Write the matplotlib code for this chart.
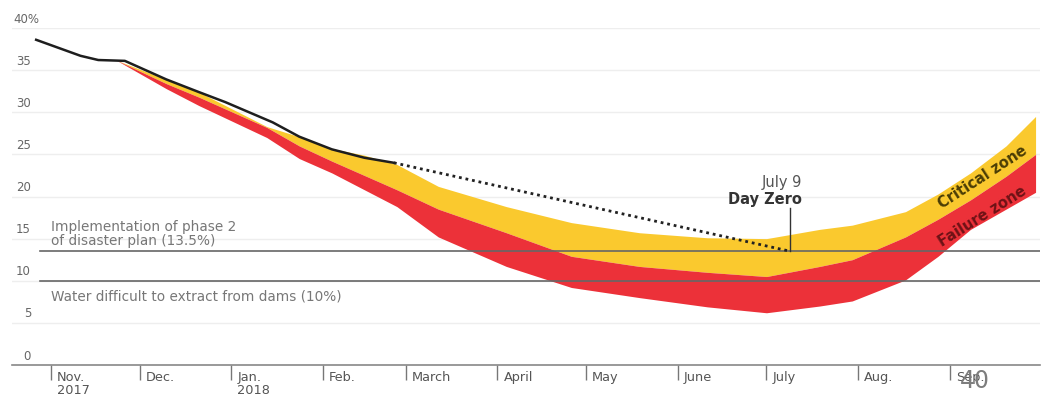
import matplotlib
matplotlib.use("Agg")
import matplotlib.pyplot as plt
import matplotlib.transforms as mtransforms
import pandas as pd

# measured dam level (%)
actual_dates = ['2017-10-27', '2017-11-11', '2017-11-17', '2017-11-26', '2017-12-10',
                '2017-12-21', '2017-12-30', '2018-01-07', '2018-01-15', '2018-01-24',
                '2018-02-04', '2018-02-15', '2018-02-25']
actual_level = [38.6, 36.7, 36.2, 36.1, 33.9, 32.4, 31.2, 30.0, 28.8, 27.1, 25.6, 24.6, 24.0]

# projection to day zero
projection_dates = ['2018-02-25', '2018-07-09']
projection_level = [24.0, 13.5]

# zone boundaries
band_dates = ['2017-11-23', '2017-12-10', '2017-12-21', '2018-01-13', '2018-01-24',
              '2018-02-04', '2018-02-15', '2018-02-26', '2018-03-12', '2018-04-04',
              '2018-04-26', '2018-05-19', '2018-06-11', '2018-07-01', '2018-07-19',
              '2018-07-30', '2018-08-17', '2018-08-28', '2018-09-08', '2018-09-20',
              '2018-09-30']
critical_top = [36.2, 33.9, 32.4, 28.3, 27.1, 25.7, 24.9, 23.8, 21.2, 18.8, 16.9,
                15.7, 15.1, 15.0, 16.1, 16.6, 18.2, 20.3, 22.8, 26.0, 29.5]
failure_top = [36.2, 33.4, 31.8, 28.2, 26.0, 24.2, 22.5, 20.8, 18.5, 15.7, 12.9,
               11.7, 11.0, 10.5, 11.7, 12.5, 15.2, 17.3, 19.6, 22.4, 25.0]
failure_bottom = [36.2, 32.8, 30.8, 27.0, 24.5, 22.8, 20.8, 18.8, 15.2, 11.7, 9.2,
                  8.0, 6.9, 6.2, 7.0, 7.6, 10.1, 12.9, 16.1, 18.5, 20.5]

month_ticks = ['2017-11-01', '2017-12-01', '2018-01-01', '2018-02-01', '2018-03-01',
               '2018-04-01', '2018-05-01', '2018-06-01', '2018-07-01', '2018-08-01',
               '2018-09-01']
month_labels = ['Nov.\n2017', 'Dec.', 'Jan.\n2018', 'Feb.', 'March', 'April', 'May',
                'June', 'July', 'Aug.', 'Sep.']
y_ticks = [0, 5, 10, 15, 20, 25, 30, 35, 40]

YELLOW = '#FAC92E'
RED = '#EC3139'

plt.rcParams['font.family'] = ['DejaVu Sans']

fig = plt.figure(figsize=(10.46, 4.01), dpi=100)
ax = fig.add_axes([12 / 1046, 36 / 401, 1028 / 1046, 337 / 401])

bd = pd.to_datetime(band_dates)
ax.fill_between(bd, failure_top, critical_top, color=YELLOW, lw=0, zorder=2)
ax.fill_between(bd, failure_bottom, failure_top, color=RED, lw=0, zorder=2)

ax.plot(pd.to_datetime(actual_dates), actual_level, color='#1e1e1e', lw=1.8, zorder=4)
ax.plot(pd.to_datetime(projection_dates), projection_level, color='#222222',
        lw=2, linestyle=(0, (1, 1.4)), zorder=4)

# reference levels
ax.axhline(13.5, xmin=0.027, xmax=1, color='#666666', lw=1.2, zorder=3)
ax.axhline(10, xmin=0.027, xmax=1, color='#666666', lw=1.2, zorder=3)
ax.text(pd.Timestamp('2017-11-01'), 15.6,
        'Implementation of phase 2\nof disaster plan (13.5%)',
        fontsize=9.8, color='#777777', va='center', ha='left', linespacing=1.0, zorder=5)
ax.text(pd.Timestamp('2017-11-01'), 8.1, 'Water difficult to extract from dams (10%)',
        fontsize=9.8, color='#777777', va='center', ha='left', zorder=5)

# day zero marker
dz = pd.Timestamp('2018-07-09')
ax.plot([dz, dz], [13.5, 18.6], color='#333333', lw=1, zorder=5)
ax.text(pd.Timestamp('2018-07-13'), 21.7, 'July 9', fontsize=10.5, color='#555555',
        ha='right', va='center')
ax.text(pd.Timestamp('2018-07-13'), 19.7, 'Day Zero', fontsize=10.5, fontweight='bold',
        color='#333333', ha='right', va='center')

ax.text(pd.Timestamp('2018-09-12'), 22.3, 'Critical zone', fontsize=10.5, fontweight='bold',
        color='#4a3d05', rotation=33, rotation_mode='anchor', ha='center', va='center',
        zorder=6)
ax.text(pd.Timestamp('2018-09-12'), 17.6, 'Failure zone', fontsize=10.5, fontweight='bold',
        color='#6e1216', rotation=32, rotation_mode='anchor', ha='center', va='center',
        zorder=6)

# axes
ax.set_ylim(0, 40)
ax.set_xlim(pd.Timestamp('2017-10-18 20:00'), pd.Timestamp('2018-10-01 12:00'))
ax.set_yticks(y_ticks)
ax.set_yticklabels([])
ax.tick_params(axis='y', length=0)
ax.grid(axis='y', color='#eeeeee', lw=1, zorder=0)
ax.set_axisbelow(True)

label_tf = mtransforms.blended_transform_factory(ax.transAxes, ax.transData)
off = mtransforms.ScaledTranslation(0, 9 / 100, fig.dpi_scale_trans)
for v in y_ticks:
    if v == 40:
        ax.text(0.001, v, '40%', transform=label_tf + off, fontsize=8.5,
                color='#666666', ha='left', va='center')
    else:
        ax.text(0.0185, v, str(v), transform=label_tf + off, fontsize=8.5,
                color='#666666', ha='right', va='center')

ax.set_xticks(pd.to_datetime(month_ticks))
ax.set_xticklabels(month_labels, fontsize=9.3, color='#555555', linespacing=1.0)
ax.tick_params(axis='x', direction='out', length=11, width=1, color='#777777', pad=-7)
shift = mtransforms.ScaledTranslation(6 / 100, 0, fig.dpi_scale_trans)
for lbl in ax.get_xticklabels():
    lbl.set_horizontalalignment('left')
    lbl.set_transform(lbl.get_transform() + shift)

for side in ['top', 'right', 'left']:
    ax.spines[side].set_visible(False)
ax.spines['bottom'].set_color('#888888')
ax.spines['bottom'].set_linewidth(1.2)

# page number stamped over the last month label, as in the source image
fig.text(975 / 1046, 1 - 381 / 401, '40', fontsize=17, color='#7d7d7d',
         ha='center', va='center')

fig.savefig('out.png', dpi=100)
